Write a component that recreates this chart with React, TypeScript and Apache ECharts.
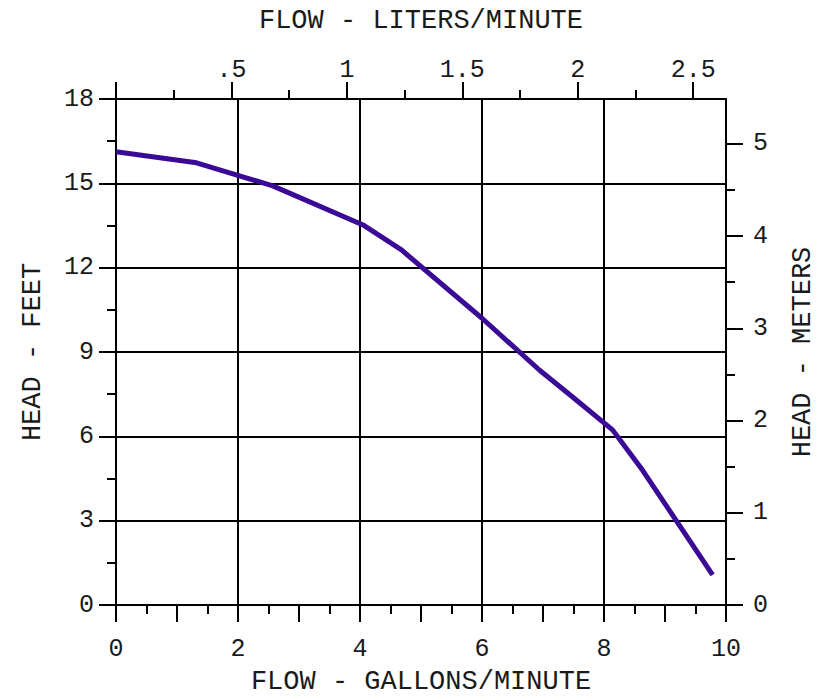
import React, { useEffect, useRef } from "react";
import * as echarts from "echarts";

// Pump curve
const flowGpm = [0, 1.32, 2.57, 4.05, 4.68, 6.0, 6.94, 7.48, 8.14, 8.63, 9.78];
const headFt = [16.12, 15.73, 14.91, 13.52, 12.63, 10.2, 8.36, 7.41, 6.23, 4.8, 1.07];

// Axis ranges / conversions
const GPM_MAX = 10;
const FT_MAX = 18;
const M_PER_FT = 0.3048;
const GPM_PER_TOP_UNIT = 3.785;

// Tick values
const bottomOddTicks = [1, 3, 5, 7, 9];
const topMajorTicks = [0, 0.5, 1, 1.5, 2, 2.5];
const topLabels = [0.5, 1, 1.5, 2, 2.5];
const topMinorTicks = [0.25, 0.75, 1.25, 1.75, 2.25];
const rightMajorTicks = [0, 1, 2, 3, 4, 5];
const rightMinorTicks = [0.5, 1.5, 2.5, 3.5, 4.5];

const FONT = "'Liberation Mono', 'DejaVu Sans Mono', monospace";
const INK = "#1a1a1a";
const LINE = { color: "#000", width: 2 };
const GRID_LINE = { color: "#000", width: 2 };
const LABEL_SIZE = 25;
const NAME_SIZE = 27;

export default function App() {
  const ref = useRef<HTMLDivElement>(null);
  useEffect(() => {
    if (!ref.current) return;
    const chart = echarts.init(ref.current, null, { renderer: "svg" });
    const labelStyle = { fontFamily: FONT, fontSize: LABEL_SIZE, color: INK };
    const nameStyle = { fontFamily: FONT, fontSize: NAME_SIZE, color: INK };
    chart.setOption({
      animation: false,
      backgroundColor: "#fff",
      grid: {
        left: 116,
        right: 91,
        top: 99,
        bottom: 93,
        containLabel: false,
        outerBoundsMode: "none",
      },
      xAxis: [
        {
          type: "value",
          position: "bottom",
          min: 0,
          max: GPM_MAX,
          interval: 2,
          name: "FLOW - GALLONS/MINUTE",
          nameLocation: "middle",
          nameGap: 63,
          nameTextStyle: nameStyle,
          axisLine: { show: true, onZero: false, lineStyle: LINE },
          axisTick: { show: true, inside: false, length: 17, lineStyle: LINE },
          minorTick: { show: true, splitNumber: 4, length: 9, lineStyle: LINE },
          axisLabel: { ...labelStyle, margin: 32 },
          splitLine: { show: true, lineStyle: GRID_LINE },
        },
        {
          type: "value",
          position: "bottom",
          min: 0,
          max: GPM_MAX,
          axisLine: { show: false, onZero: false },
          axisTick: { show: true, length: 17, customValues: bottomOddTicks, lineStyle: LINE },
          axisLabel: { show: false },
          splitLine: { show: false },
        },
        {
          type: "value",
          position: "top",
          min: 0,
          max: GPM_MAX / GPM_PER_TOP_UNIT,
          name: "FLOW - LITERS/MINUTE",
          nameLocation: "middle",
          nameGap: 65,
          nameTextStyle: nameStyle,
          axisLine: { show: true, onZero: false, lineStyle: LINE },
          axisTick: { show: true, length: 17, customValues: topMajorTicks, lineStyle: LINE },
          axisLabel: {
            ...labelStyle,
            margin: 16,
            customValues: topLabels,
            formatter: (v: number) => (v < 1 ? String(v).replace(/^0/, "") : String(v)),
          },
          splitLine: { show: false },
        },
        {
          type: "value",
          position: "top",
          min: 0,
          max: GPM_MAX / GPM_PER_TOP_UNIT,
          axisLine: { show: false, onZero: false },
          axisTick: { show: true, length: 9, customValues: topMinorTicks, lineStyle: LINE },
          axisLabel: { show: false },
          splitLine: { show: false },
        },
      ],
      yAxis: [
        {
          type: "value",
          position: "left",
          min: 0,
          max: FT_MAX,
          interval: 3,
          name: "HEAD - FEET",
          nameLocation: "middle",
          nameRotate: 90,
          nameGap: 70,
          nameTextStyle: nameStyle,
          axisLine: { show: true, onZero: false, lineStyle: LINE },
          axisTick: { show: true, length: 17, lineStyle: LINE },
          minorTick: { show: true, splitNumber: 2, length: 9, lineStyle: LINE },
          axisLabel: { ...labelStyle, margin: 22 },
          splitLine: { show: true, lineStyle: GRID_LINE },
        },
        {
          type: "value",
          position: "right",
          min: 0,
          max: FT_MAX * M_PER_FT,
          name: "HEAD - METERS",
          nameLocation: "middle",
          nameRotate: 90,
          nameGap: 63,
          nameTextStyle: nameStyle,
          axisLine: { show: true, onZero: false, lineStyle: LINE },
          axisTick: { show: true, length: 17, customValues: rightMajorTicks, lineStyle: LINE },
          axisLabel: { ...labelStyle, margin: 27, customValues: rightMajorTicks },
          splitLine: { show: false },
        },
        {
          type: "value",
          position: "right",
          min: 0,
          max: FT_MAX * M_PER_FT,
          axisLine: { show: false, onZero: false },
          axisTick: { show: true, length: 9, customValues: rightMinorTicks, lineStyle: LINE },
          axisLabel: { show: false },
          splitLine: { show: false },
        },
      ],
      series: [
        {
          type: "line",
          xAxisIndex: 0,
          yAxisIndex: 0,
          data: flowGpm.map((x, i) => [x, headFt[i]]),
          symbol: "none",
          showSymbol: false,
          lineStyle: { color: "#3a0a96", width: 5 },
          z: 10,
        },
      ],
    });
    return () => chart.dispose();
  }, []);
  return (
    <div
      ref={ref}
      style={{ position: "fixed", left: 0, top: 0, width: 817, height: 698, background: "#fff" }}
    />
  );
}
